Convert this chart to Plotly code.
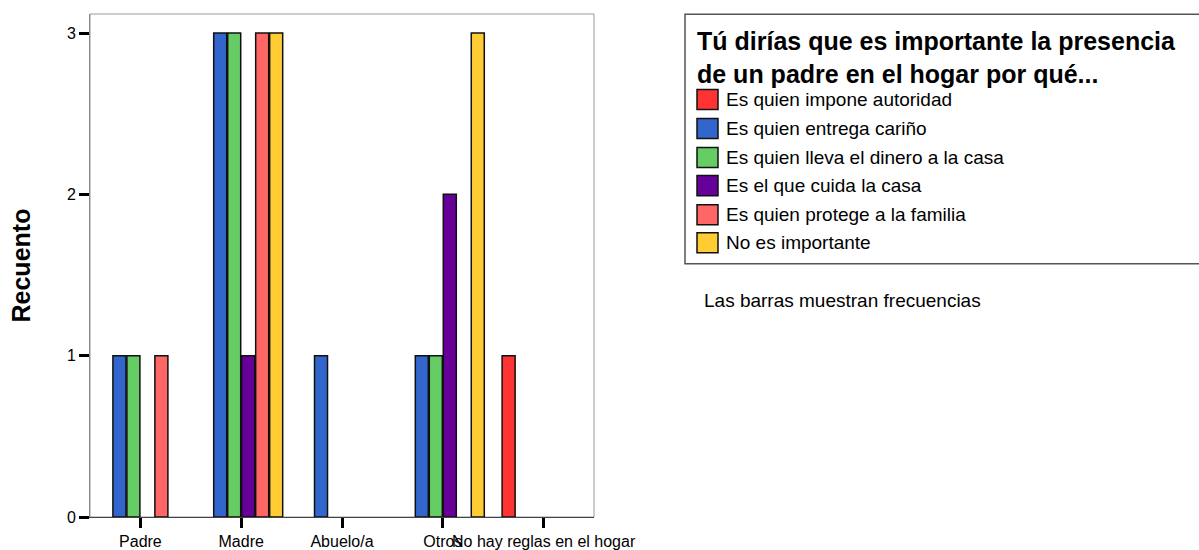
import plotly.graph_objects as go

categories = ["Padre", "Madre", "Abuelo/a", "Otros", "No hay reglas en el hogar"]
series_names = [
    "Es quien impone autoridad",
    "Es quien entrega cariño",
    "Es quien lleva el dinero a la casa",
    "Es el que cuida la casa",
    "Es quien protege a la familia",
    "No es importante",
]
autoridad = [0, 0, 0, 0, 1]
carino = [1, 3, 1, 1, 0]
dinero = [1, 3, 0, 1, 0]
cuida = [0, 1, 0, 2, 0]
protege = [1, 3, 0, 0, 0]
no_importante = [0, 3, 0, 3, 0]
series_values = [autoridad, carino, dinero, cuida, protege, no_importante]
colors = ["#FF3333", "#3366CC", "#66CC66", "#660099", "#FF6666", "#FFCC33"]
y_ticks = [0, 1, 2, 3]

legend_title_1 = "Tú dirías que es importante la presencia"
legend_title_2 = "de un padre en el hogar por qué..."
note_text = "Las barras muestran frecuencias"
y_title = "Recuento"

FONT = "Liberation Sans, Arial, sans-serif"
W, H = 1199, 562
S = H / 550.0
L, R = 90, 605
T, B = round(14 * S), round(34 * S)
PW = W - L - R
PH = H - T - B


def px(x):
    return (x - L) / PW


def py(y):
    return (H - B - y * S) / PH


fig = go.Figure()
for name, vals, col in zip(series_names, series_values, colors):
    fig.add_trace(go.Bar(
        x=categories,
        y=[v if v != 0 else None for v in vals],
        name=name,
        marker=dict(color=col, line=dict(color="#111111", width=1.5)),
        showlegend=False,
    ))

shapes = [
    dict(type="rect", xref="paper", yref="paper", x0=0, x1=1, y0=0, y1=1,
         line=dict(color="#999999", width=1), layer="below"),
    dict(type="rect", xref="paper", yref="paper", x0=px(685), x1=px(1205),
         y0=py(263), y1=py(14), line=dict(color="#555555", width=1.5)),
]
annotations = [
    dict(text=f"<b>{y_title}</b>", xref="paper", yref="paper", x=px(20), y=0.5,
         textangle=-90, showarrow=False, xanchor="center", yanchor="middle",
         font=dict(family=FONT, size=25, color="black")),
    dict(text=f"<b>{legend_title_1}</b>", xref="paper", yref="paper", x=px(695), y=py(41),
         showarrow=False, xanchor="left", yanchor="middle",
         font=dict(family=FONT, size=25, color="black")),
    dict(text=f"<b>{legend_title_2}</b>", xref="paper", yref="paper", x=px(695), y=py(74),
         showarrow=False, xanchor="left", yanchor="middle",
         font=dict(family=FONT, size=25, color="black")),
    dict(text=note_text, xref="paper", yref="paper", x=px(702), y=py(300),
         showarrow=False, xanchor="left", yanchor="middle",
         font=dict(family=FONT, size=19, color="black")),
]
item_y = [99, 128, 157, 185, 214, 242]
for name, col, yy in zip(series_names, colors, item_y):
    shapes.append(dict(type="rect", xref="paper", yref="paper",
                       x0=px(697), x1=px(718), y0=py(yy + 10), y1=py(yy - 10),
                       fillcolor=col, line=dict(color="#111111", width=1.5)))
    annotations.append(dict(text=name, xref="paper", yref="paper", x=px(724), y=py(yy),
                            showarrow=False, xanchor="left", yanchor="middle",
                            font=dict(family=FONT, size=19, color="black")))

fig.update_layout(
    width=W, height=H, autosize=False,
    margin=dict(l=L, r=R, t=T, b=B, pad=0),
    paper_bgcolor="white", plot_bgcolor="white",
    barmode="group", bargap=0.167, bargroupgap=0.07,
    font=dict(family=FONT, size=16, color="black"),
    shapes=shapes, annotations=annotations,
    xaxis=dict(type="category", range=[-0.5, 4.5], ticks="outside", ticklen=10,
               tickwidth=3, tickcolor="black", tickangle=0, showline=True,
               linecolor="#444444", linewidth=1, showgrid=False,
               tickfont=dict(family=FONT, size=16)),
    yaxis=dict(range=[0, 3.118], tickvals=y_ticks, ticks="outside", ticklen=10,
               tickwidth=3, tickcolor="black", showline=True, linecolor="#888888",
               linewidth=1, showgrid=False, zeroline=False,
               tickfont=dict(family=FONT, size=16)),
)

fig.write_html(
    "out.html",
    config={"responsive": False, "displayModeBar": False},
    post_script=(
        "document.documentElement.style.margin='0';"
        "document.documentElement.style.overflow='hidden';"
        "document.body.style.margin='0';document.body.style.overflow='hidden';"
        "var gd=document.getElementById('{plot_id}');"
        "gd.style.position='fixed';gd.style.left='0px';gd.style.top='0px';"
    ),
)
